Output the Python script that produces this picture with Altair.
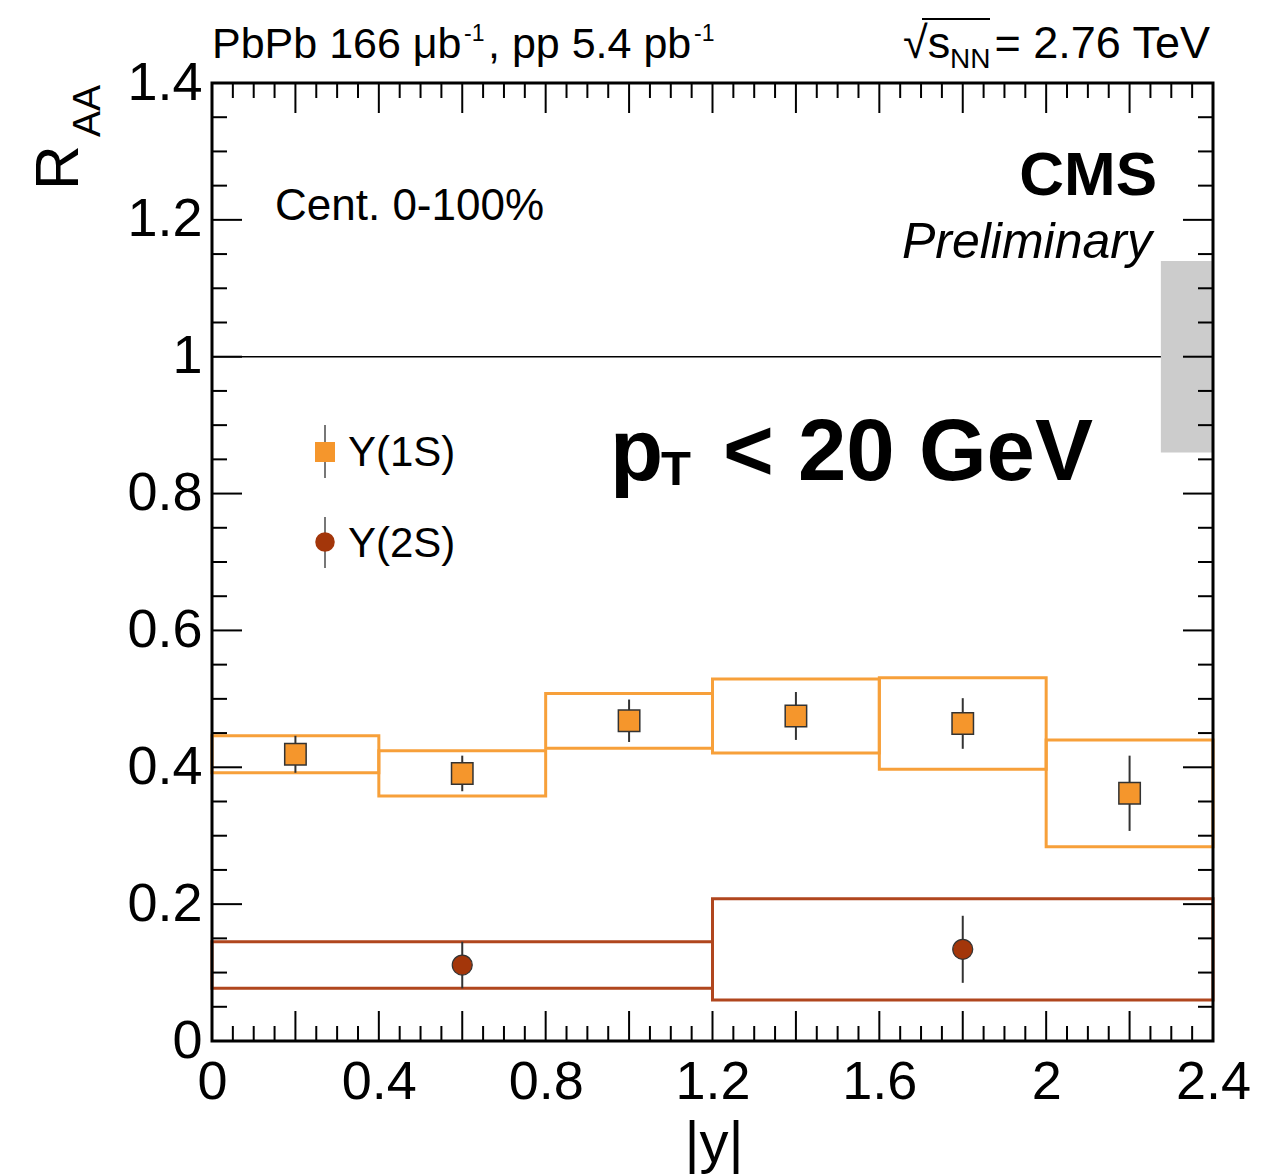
import altair as alt
import pandas as pd

# ---------------- data ----------------
y1s_lo = [0.0, 0.4, 0.8, 1.2, 1.6, 2.0]
y1s_hi = [0.4, 0.8, 1.2, 1.6, 2.0, 2.4]
y1s_x = [0.2, 0.6, 1.0, 1.4, 1.8, 2.2]
y1s_raa = [0.419, 0.391, 0.468, 0.475, 0.464, 0.362]
y1s_stat = [0.027, 0.026, 0.031, 0.035, 0.037, 0.055]
y1s_syst = [0.027, 0.033, 0.040, 0.054, 0.067, 0.078]

y2s_lo = [0.0, 1.2]
y2s_hi = [1.2, 2.4]
y2s_x = [0.6, 1.8]
y2s_raa = [0.111, 0.134]
y2s_stat = [0.034, 0.049]
y2s_syst = [0.034, 0.074]

glob_x = [2.275, 2.4]
glob_unc = 0.14

x_labels = [0, 0.4, 0.8, 1.2, 1.6, 2.0, 2.4]
y_labels = [0, 0.2, 0.4, 0.6, 0.8, 1.0, 1.2, 1.4]

x_major = [round(i * 0.2, 2) for i in range(13)]
x_minor = [round(i * 0.05, 2) for i in range(49) if i % 4]
y_major = [round(i * 0.2, 2) for i in range(8)]
y_minor = [round(i * 0.05, 2) for i in range(29) if i % 4]

# ---------------- style ----------------
W, H = 1001, 958
FONT = "Liberation Sans"
C1 = "#f7a03a"
C1F = "#f5962c"
C2 = "#b0461e"
C2F = "#a3360a"

xs = alt.Scale(domain=[0, 2.4], nice=False, zero=False)
ys = alt.Scale(domain=[0, 1.4], nice=False, zero=False)

AX = alt.Axis(values=x_labels, labelExpr="format(datum.value, '~g')", title=None,
              ticks=False, domain=False, grid=False, labelFont=FONT, labelFontSize=54,
              labelColor="black", labelPadding=14, labelFlush=False)
AY = alt.Axis(values=y_labels, labelExpr="format(datum.value, '~g')", title=None,
              ticks=False, domain=False, grid=False, labelFont=FONT, labelFontSize=54,
              labelColor="black", labelPadding=10, labelFlush=False)


def X(f):
    return alt.X(f, scale=xs, axis=AX, title=None)


def Y(f):
    return alt.Y(f, scale=ys, axis=AY, title=None)


df1 = pd.DataFrame({"lo": y1s_lo, "hi": y1s_hi, "x": y1s_x, "raa": y1s_raa,
                    "stat": y1s_stat, "syst": y1s_syst})
df1["s_lo"] = df1.raa - df1.syst
df1["s_hi"] = df1.raa + df1.syst
df1["e_lo"] = df1.raa - df1.stat
df1["e_hi"] = df1.raa + df1.stat

df2 = pd.DataFrame({"lo": y2s_lo, "hi": y2s_hi, "x": y2s_x, "raa": y2s_raa,
                    "stat": y2s_stat, "syst": y2s_syst})
df2["s_lo"] = df2.raa - df2.syst
df2["s_hi"] = df2.raa + df2.syst
df2["e_lo"] = df2.raa - df2.stat
df2["e_hi"] = df2.raa + df2.stat

one = pd.DataFrame({"a": [0]})

unity = alt.Chart(pd.DataFrame({"x0": [0.0], "x1": [2.4], "y": [1.0]})).mark_rule(
    color="black", strokeWidth=1.5
).encode(x=X("x0:Q"), x2="x1:Q", y=Y("y:Q"))

gbox = alt.Chart(pd.DataFrame({"x0": [glob_x[0]], "x1": [glob_x[1]],
                               "y0": [1 - glob_unc], "y1": [1 + glob_unc]})).mark_rect(
    color="#cccccc").encode(x=X("x0:Q"), x2="x1:Q", y=Y("y0:Q"), y2="y1:Q")


def syst_boxes(df, col):
    return alt.Chart(df).mark_rect(fillOpacity=0, stroke=col, strokeWidth=3).encode(
        x=X("lo:Q"), x2="hi:Q", y=Y("s_lo:Q"), y2="s_hi:Q")


def err_bars(df):
    return alt.Chart(df).mark_rule(color="#333333", strokeWidth=2).encode(
        x=X("x:Q"), y=Y("e_lo:Q"), y2="e_hi:Q")


pts1 = alt.Chart(df1).mark_point(shape="square", filled=True, size=460, fill=C1F,
                                 stroke="#333333", strokeWidth=1.5, opacity=1).encode(
    x=X("x:Q"), y=Y("raa:Q"))
pts2 = alt.Chart(df2).mark_point(shape="circle", filled=True, size=400, fill=C2F,
                                 stroke="#333333", strokeWidth=1.2, opacity=1).encode(
    x=X("x:Q"), y=Y("raa:Q"))


def ticks_x(vals, ln):
    d = pd.DataFrame({"v": vals})
    b = alt.Chart(d).mark_rule(color="black", strokeWidth=2).encode(
        x=X("v:Q"), y=alt.value(H), y2=alt.value(H - ln))
    t = alt.Chart(d).mark_rule(color="black", strokeWidth=2).encode(
        x=X("v:Q"), y=alt.value(0), y2=alt.value(ln))
    return [b, t]


def ticks_y(vals, ln):
    d = pd.DataFrame({"v": vals})
    l = alt.Chart(d).mark_rule(color="black", strokeWidth=2).encode(
        y=Y("v:Q"), x=alt.value(0), x2=alt.value(ln))
    r = alt.Chart(d).mark_rule(color="black", strokeWidth=2).encode(
        y=Y("v:Q"), x=alt.value(W), x2=alt.value(W - ln))
    return [l, r]


frame = alt.Chart(one).mark_rect(fillOpacity=0, stroke="black", strokeWidth=3).encode(
    x=alt.value(0), x2=alt.value(W), y=alt.value(0), y2=alt.value(H))


def txt(s, x, y, size, align="left", weight="normal", style="normal", angle=0,
        baseline="alphabetic", color="black"):
    return alt.Chart(one).mark_text(
        text=s, font=FONT, fontSize=size, align=align, baseline=baseline,
        fontWeight=weight, fontStyle=style, angle=angle, color=color
    ).encode(x=alt.value(x), y=alt.value(y))


texts = [
    txt("PbPb 166 μb", 0, -25, 43),
    txt("-1", 252, -42, 23),
    txt(", pp 5.4 pb", 276, -25, 43),
    txt("-1", 482, -42, 23),
    txt("√s", 691, -25, 45),
    txt("NN", 738, -15, 28),
    txt("= 2.76 TeV", 998, -25, 45, align="right"),
    txt("Cent. 0-100%", 63, 137, 44),
    txt("CMS", 945, 112, 62, align="right", weight="bold"),
    txt("Preliminary", 940, 175, 50, align="right", style="italic"),
    txt("p", 398, 397, 87, weight="bold"),
    txt("T", 449, 402, 49, weight="bold"),
    txt("< 20 GeV", 881, 397, 87, align="right", weight="bold"),
    txt("R", -134, 107, 62, angle=270),
    txt("AA", -112, 54, 39, angle=270),
    txt("|y|", 502, 1079, 58, align="center"),
    txt("Υ(1S)", 136, 383, 42),
    txt("Υ(2S)", 136, 474, 42),
]

overline = alt.Chart(one).mark_rule(color="black", strokeWidth=2).encode(
    x=alt.value(710), x2=alt.value(778), y=alt.value(-64))

leg_lines = [
    alt.Chart(one).mark_rule(color="#777777", strokeWidth=2).encode(
        x=alt.value(113), y=alt.value(342), y2=alt.value(395)),
    alt.Chart(one).mark_rule(color="#777777", strokeWidth=2).encode(
        x=alt.value(113), y=alt.value(434), y2=alt.value(485)),
]
leg_marks = [
    alt.Chart(one).mark_point(shape="square", filled=True, size=400, fill=C1F,
                              opacity=1, strokeWidth=0).encode(
        x=alt.value(113), y=alt.value(369)),
    alt.Chart(one).mark_point(shape="circle", filled=True, size=380, fill=C2F,
                              opacity=1, strokeWidth=0).encode(
        x=alt.value(113), y=alt.value(459)),
]

layers = [unity, gbox, syst_boxes(df1, C1), syst_boxes(df2, C2),
          err_bars(df1), err_bars(df2), pts1, pts2]
layers += ticks_x(x_major, 30) + ticks_x(x_minor, 15)
layers += ticks_y(y_major, 30) + ticks_y(y_minor, 15)
layers += [frame, overline] + leg_lines + leg_marks + texts

chart = alt.layer(*layers).properties(
    width=W, height=H,
    autosize=alt.AutoSizeParams(type="none"),
    padding={"left": 212, "top": 83, "right": 55, "bottom": 133},
    background="white",
).configure_view(stroke=None)

chart.save("out.html", embed_options={"renderer": "svg", "actions": False})
